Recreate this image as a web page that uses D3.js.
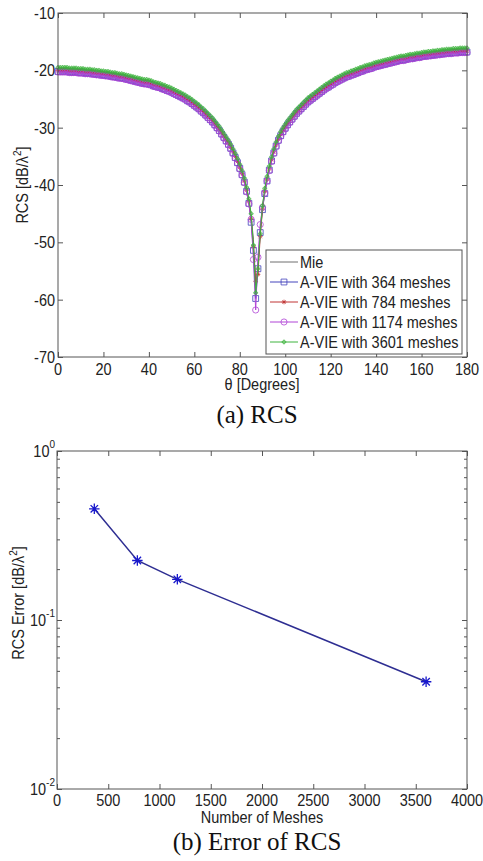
<!DOCTYPE html>
<html><head><meta charset="utf-8">
<script src="https://cdn.jsdelivr.net/npm/d3@7"></script>
<style>body{margin:0;background:#fff}svg{display:block}</style>
</head><body>
<svg id="c" width="483" height="861"></svg>
<script>
// ---------- data: (a) RCS vs theta ----------
const thetaDeg = d3.range(0, 181);
const rcsMie = [
-19.7,-19.7,-19.7,-19.7,-19.7,-19.8,-19.8,-19.8,-19.8,-19.9,
-19.9,-19.9,-20.0,-20.0,-20.0,-20.1,-20.1,-20.2,-20.2,-20.3,
-20.3,-20.4,-20.4,-20.5,-20.6,-20.6,-20.7,-20.8,-20.8,-20.9,
-21.0,-21.1,-21.2,-21.3,-21.4,-21.5,-21.6,-21.7,-21.8,-21.8,
-21.9,-22.0,-22.2,-22.3,-22.4,-22.5,-22.7,-22.8,-23.0,-23.1,
-23.3,-23.5,-23.7,-23.9,-24.1,-24.3,-24.5,-24.8,-25.0,-25.3,
-25.6,-25.9,-26.2,-26.6,-26.9,-27.3,-27.7,-28.1,-28.5,-29.0,
-29.5,-30.0,-30.6,-31.2,-31.8,-32.4,-33.1,-33.9,-34.7,-35.6,
-36.6,-37.7,-39.0,-40.6,-42.6,-45.3,-49.5,-57.5,-54.2,-47.6,
-43.6,-40.8,-38.7,-36.9,-35.3,-33.9,-32.7,-31.7,-30.9,-30.2,
-29.6,-29.0,-28.5,-28.0,-27.5,-27.0,-26.6,-26.2,-25.8,-25.4,
-25.0,-24.7,-24.4,-24.1,-23.8,-23.5,-23.2,-22.9,-22.6,-22.4,
-22.1,-21.9,-21.6,-21.4,-21.2,-21.0,-20.8,-20.6,-20.5,-20.3,
-20.2,-20.0,-19.9,-19.7,-19.6,-19.4,-19.3,-19.2,-19.1,-18.9,
-18.8,-18.7,-18.6,-18.5,-18.4,-18.3,-18.2,-18.1,-18.0,-17.9,
-17.8,-17.7,-17.7,-17.6,-17.5,-17.4,-17.4,-17.3,-17.2,-17.2,
-17.1,-17.0,-17.0,-16.9,-16.9,-16.8,-16.8,-16.7,-16.7,-16.6,
-16.6,-16.5,-16.5,-16.5,-16.4,-16.4,-16.4,-16.3,-16.3,-16.3,-16.3];
const rcs364 = [
-20.2,-20.2,-20.2,-20.2,-20.2,-20.3,-20.3,-20.3,-20.3,-20.4,
-20.4,-20.4,-20.5,-20.5,-20.5,-20.6,-20.6,-20.7,-20.7,-20.8,
-20.8,-20.9,-20.9,-21.0,-21.1,-21.1,-21.2,-21.3,-21.3,-21.4,
-21.5,-21.6,-21.7,-21.8,-21.9,-22.0,-22.1,-22.2,-22.3,-22.3,
-22.4,-22.5,-22.7,-22.8,-22.9,-23.0,-23.2,-23.3,-23.5,-23.6,
-23.8,-24.0,-24.2,-24.4,-24.6,-24.8,-25.0,-25.3,-25.5,-25.8,
-26.1,-26.4,-26.7,-27.1,-27.4,-27.8,-28.2,-28.6,-29.0,-29.5,
-30.0,-30.5,-31.1,-31.7,-32.3,-32.9,-33.6,-34.4,-35.2,-36.1,
-37.1,-38.2,-39.5,-41.1,-43.2,-46.5,-51.4,-59.8,-54.6,-48.3,
-44.3,-41.5,-39.3,-37.4,-35.8,-34.4,-33.2,-32.2,-31.4,-30.7,
-30.1,-29.5,-29.0,-28.5,-28.0,-27.5,-27.1,-26.7,-26.3,-25.9,
-25.5,-25.2,-24.9,-24.6,-24.3,-24.0,-23.7,-23.4,-23.1,-22.9,
-22.6,-22.4,-22.1,-21.9,-21.7,-21.5,-21.3,-21.1,-21.0,-20.8,
-20.7,-20.5,-20.4,-20.2,-20.1,-19.9,-19.8,-19.7,-19.6,-19.4,
-19.3,-19.2,-19.1,-19.0,-18.9,-18.8,-18.7,-18.6,-18.5,-18.4,
-18.3,-18.2,-18.2,-18.1,-18.0,-17.9,-17.9,-17.8,-17.7,-17.7,
-17.6,-17.5,-17.5,-17.4,-17.4,-17.3,-17.3,-17.2,-17.2,-17.1,
-17.1,-17.0,-17.0,-17.0,-16.9,-16.9,-16.9,-16.8,-16.8,-16.8,-16.8];
const rcs784 = [
-20.0,-20.0,-20.0,-20.0,-20.0,-20.1,-20.1,-20.1,-20.1,-20.2,
-20.2,-20.2,-20.3,-20.3,-20.3,-20.4,-20.4,-20.5,-20.5,-20.6,
-20.6,-20.7,-20.7,-20.8,-20.9,-20.9,-21.0,-21.1,-21.1,-21.2,
-21.3,-21.4,-21.5,-21.6,-21.7,-21.8,-21.9,-22.0,-22.1,-22.1,
-22.2,-22.3,-22.5,-22.6,-22.7,-22.8,-23.0,-23.1,-23.3,-23.4,
-23.6,-23.8,-24.0,-24.2,-24.4,-24.6,-24.8,-25.1,-25.3,-25.6,
-25.9,-26.2,-26.5,-26.9,-27.2,-27.6,-28.0,-28.4,-28.8,-29.3,
-29.8,-30.3,-30.9,-31.5,-32.1,-32.7,-33.4,-34.2,-35.0,-35.9,
-36.9,-38.0,-39.3,-40.9,-42.9,-45.8,-50.8,-56.8,-55.6,-49.0,
-44.2,-41.1,-39.0,-37.2,-35.6,-34.2,-33.0,-32.0,-31.2,-30.5,
-29.9,-29.3,-28.8,-28.3,-27.8,-27.3,-26.9,-26.5,-26.1,-25.7,
-25.3,-25.0,-24.7,-24.4,-24.1,-23.8,-23.5,-23.2,-22.9,-22.7,
-22.4,-22.2,-21.9,-21.7,-21.5,-21.3,-21.1,-20.9,-20.8,-20.6,
-20.5,-20.3,-20.2,-20.0,-19.9,-19.7,-19.6,-19.5,-19.4,-19.2,
-19.1,-19.0,-18.9,-18.8,-18.7,-18.6,-18.5,-18.4,-18.3,-18.2,
-18.1,-18.0,-18.0,-17.9,-17.8,-17.7,-17.7,-17.6,-17.5,-17.5,
-17.4,-17.3,-17.3,-17.2,-17.2,-17.1,-17.1,-17.0,-17.0,-16.9,
-16.9,-16.8,-16.8,-16.8,-16.7,-16.7,-16.7,-16.6,-16.6,-16.6,-16.6];
const rcs1174 = [
-20.3,-20.3,-20.3,-20.3,-20.3,-20.4,-20.4,-20.4,-20.4,-20.5,
-20.5,-20.5,-20.6,-20.6,-20.6,-20.7,-20.7,-20.8,-20.8,-20.9,
-20.9,-21.0,-21.0,-21.1,-21.2,-21.2,-21.3,-21.4,-21.4,-21.5,
-21.6,-21.7,-21.8,-21.9,-22.0,-22.1,-22.2,-22.3,-22.4,-22.4,
-22.5,-22.6,-22.8,-22.9,-23.0,-23.1,-23.3,-23.4,-23.6,-23.7,
-23.9,-24.1,-24.3,-24.5,-24.7,-24.9,-25.1,-25.4,-25.6,-25.9,
-26.2,-26.5,-26.8,-27.2,-27.5,-27.9,-28.3,-28.7,-29.1,-29.6,
-30.1,-30.6,-31.2,-31.8,-32.4,-33.0,-33.7,-34.5,-35.3,-36.2,
-37.2,-38.3,-39.6,-41.2,-43.3,-46.0,-53.0,-61.8,-52.6,-46.9,
-43.9,-41.4,-39.3,-37.5,-35.9,-34.5,-33.3,-32.3,-31.5,-30.8,
-30.2,-29.6,-29.1,-28.6,-28.1,-27.6,-27.2,-26.8,-26.4,-26.0,
-25.6,-25.3,-25.0,-24.7,-24.4,-24.1,-23.8,-23.5,-23.2,-23.0,
-22.7,-22.5,-22.2,-22.0,-21.8,-21.6,-21.4,-21.2,-21.1,-20.9,
-20.8,-20.6,-20.5,-20.3,-20.2,-20.0,-19.9,-19.8,-19.7,-19.5,
-19.4,-19.3,-19.2,-19.1,-19.0,-18.9,-18.8,-18.7,-18.6,-18.5,
-18.4,-18.3,-18.3,-18.2,-18.1,-18.0,-18.0,-17.9,-17.8,-17.8,
-17.7,-17.6,-17.6,-17.5,-17.5,-17.4,-17.4,-17.3,-17.3,-17.2,
-17.2,-17.1,-17.1,-17.1,-17.0,-17.0,-17.0,-16.9,-16.9,-16.9,-16.9];
const rcs3601 = [
-19.5,-19.5,-19.5,-19.5,-19.5,-19.6,-19.6,-19.6,-19.6,-19.7,
-19.7,-19.7,-19.8,-19.8,-19.8,-19.9,-19.9,-20.0,-20.0,-20.1,
-20.1,-20.2,-20.2,-20.3,-20.4,-20.4,-20.5,-20.6,-20.6,-20.7,
-20.8,-20.9,-21.0,-21.1,-21.2,-21.3,-21.4,-21.5,-21.6,-21.6,
-21.7,-21.8,-22.0,-22.1,-22.2,-22.3,-22.5,-22.6,-22.8,-22.9,
-23.1,-23.3,-23.5,-23.7,-23.9,-24.1,-24.3,-24.6,-24.8,-25.1,
-25.4,-25.7,-26.0,-26.4,-26.7,-27.1,-27.5,-27.9,-28.3,-28.8,
-29.3,-29.8,-30.4,-31.0,-31.6,-32.2,-32.9,-33.7,-34.5,-35.4,
-36.4,-37.5,-38.8,-40.4,-42.4,-45.0,-50.5,-58.8,-54.6,-48.5,
-43.6,-40.6,-38.5,-36.7,-35.1,-33.7,-32.5,-31.5,-30.7,-30.0,
-29.4,-28.8,-28.3,-27.8,-27.3,-26.8,-26.4,-26.0,-25.6,-25.2,
-24.8,-24.5,-24.2,-23.9,-23.6,-23.3,-23.0,-22.7,-22.4,-22.2,
-21.9,-21.7,-21.4,-21.2,-21.0,-20.8,-20.6,-20.4,-20.3,-20.1,
-20.0,-19.8,-19.7,-19.5,-19.4,-19.2,-19.1,-19.0,-18.9,-18.7,
-18.6,-18.5,-18.4,-18.3,-18.2,-18.1,-18.0,-17.9,-17.8,-17.7,
-17.6,-17.5,-17.5,-17.4,-17.3,-17.2,-17.2,-17.1,-17.0,-17.0,
-16.9,-16.8,-16.8,-16.7,-16.7,-16.6,-16.6,-16.5,-16.5,-16.4,
-16.4,-16.3,-16.3,-16.3,-16.2,-16.2,-16.2,-16.1,-16.1,-16.1,-16.1];
const seriesNames = ["Mie", "A-VIE with 364 meshes", "A-VIE with 784 meshes", "A-VIE with 1174 meshes", "A-VIE with 3601 meshes"];
const thetaTicks = [0, 20, 40, 60, 80, 100, 120, 140, 160, 180];
const rcsTicks = [-70, -60, -50, -40, -30, -20, -10];

// ---------- data: (b) error vs meshes ----------
const meshCounts = [364, 784, 1174, 3601];
const rcsError = [0.455, 0.225, 0.174, 0.0431];
const meshTicks = [0, 500, 1000, 1500, 2000, 2500, 3000, 3500, 4000];
const errorTicks = [0.01, 0.1, 1];
const errorTickExp = ["-2", "-1", "0"];

// ---------- drawing ----------
const svg = d3.select("#c");
const SANS = "'Liberation Sans', Arial, sans-serif";
const SERIF = "'Liberation Serif', 'Times New Roman', serif";
const AX = "#555";

function label(g, x, y, str, o = {}) {
  const t = g.append("text")
    .attr("transform", `translate(${x},${y}) rotate(${o.rot || 0}) scale(1,${o.sy || 1.18})`)
    .attr("text-anchor", o.anchor || "middle")
    .attr("font-family", o.family || SANS)
    .attr("font-size", o.size || 14.5)
    .attr("fill", o.fill || "#222");
  if (str !== null) t.text(str);
  return t;
}

const star8 = {
  draw(ctx, size) {
    const r = Math.sqrt(size) / 2, d = r * 0.707;
    ctx.moveTo(-r, 0); ctx.lineTo(r, 0);
    ctx.moveTo(0, -r); ctx.lineTo(0, r);
    ctx.moveTo(-d, -d); ctx.lineTo(d, d);
    ctx.moveTo(-d, d); ctx.lineTo(d, -d);
  }
};

// ===== (a) =====
const A = { l: 58, r: 467, t: 13, b: 357 };
const xA = d3.scaleLinear().domain([0, 180]).range([A.l, A.r]);
const yA = d3.scaleLinear().domain([-70, -10]).range([A.b, A.t]);
const gA = svg.append("g");

function ticksOnly(axis) {
  return g => { g.call(axis); g.select(".domain").remove(); g.selectAll("text").remove();
    g.selectAll("line").attr("stroke", AX); };
}
gA.append("g").attr("transform", `translate(0,${A.b})`).call(ticksOnly(d3.axisBottom(xA).tickValues(thetaTicks).tickSize(-5)));
gA.append("g").attr("transform", `translate(0,${A.t})`).call(ticksOnly(d3.axisTop(xA).tickValues(thetaTicks).tickSize(-5)));
gA.append("g").attr("transform", `translate(${A.l},0)`).call(ticksOnly(d3.axisLeft(yA).tickValues(rcsTicks).tickSize(-5)));
gA.append("g").attr("transform", `translate(${A.r},0)`).call(ticksOnly(d3.axisRight(yA).tickValues(rcsTicks).tickSize(-5)));

const series = [
  { name: seriesNames[0], vals: rcsMie, color: "#6e6e6e", marker: null },
  { name: seriesNames[1], vals: rcs364, color: "#4444bc", marker: d3.symbolSquare, msize: 34 },
  { name: seriesNames[2], vals: rcs784, color: "#c03434", marker: star8, msize: 22 },
  { name: seriesNames[3], vals: rcs1174, color: "#b044d6", marker: d3.symbolCircle, msize: 30 },
  { name: seriesNames[4], vals: rcs3601, color: "#3fb43f", marker: d3.symbolCross, msize: 8 }
];
const lineA = d3.line().x((d, i) => xA(thetaDeg[i])).y(d => yA(d));
const plotA = gA.append("g");
series.forEach(s => {
  plotA.append("path").attr("d", lineA(s.vals)).attr("fill", "none")
    .attr("stroke", s.color).attr("stroke-width", 1);
  if (s.marker) {
    const sym = d3.symbol().type(s.marker).size(s.msize);
    plotA.append("g").selectAll("path").data(s.vals).join("path")
      .attr("transform", (d, i) => `translate(${xA(thetaDeg[i])},${yA(d)})`)
      .attr("d", sym).attr("fill", "none").attr("stroke", s.color).attr("stroke-width", 0.8);
  }
});

gA.append("rect").attr("x", A.l).attr("y", A.t).attr("width", A.r - A.l).attr("height", A.b - A.t)
  .attr("fill", "none").attr("stroke", AX).attr("stroke-width", 1);

thetaTicks.forEach(v => label(gA, xA(v), 375, String(v)));
rcsTicks.forEach(v => label(gA, 55, yA(v) + 6, String(v), { anchor: "end" }));
label(gA, 262, 390, "θ [Degrees]");
const ylA = label(gA, 28, 185, null, { rot: -90 });
ylA.append("tspan").text("RCS [dB/λ");
ylA.append("tspan").attr("dy", -6).attr("font-size", 10).text("2");
ylA.append("tspan").attr("dy", 6).text("]");

// legend
const L = { x: 266, y: 250, w: 196, h: 104 };
const gL = gA.append("g");
gL.append("rect").attr("x", L.x).attr("y", L.y).attr("width", L.w).attr("height", L.h)
  .attr("fill", "#fff").attr("stroke", AX).attr("stroke-width", 1);
series.forEach((s, i) => {
  const cy = 262 + i * 20;
  gL.append("line").attr("x1", 270).attr("x2", 298).attr("y1", cy).attr("y2", cy)
    .attr("stroke", s.color).attr("stroke-width", 1);
  if (s.marker) {
    gL.append("path").attr("transform", `translate(284,${cy})`)
      .attr("d", d3.symbol().type(s.marker).size(s.msize)).attr("fill", "none")
      .attr("stroke", s.color).attr("stroke-width", 0.8);
  }
  label(gL, 300, cy + 6, s.name, { anchor: "start", sy: 1.12 });
});

label(svg, 257, 423, "(a) RCS", { family: SERIF, size: 25, sy: 1, fill: "#111" });

// ===== (b) =====
const B = { l: 57, r: 467, t: 451, b: 789 };
const xB = d3.scaleLinear().domain([0, 4000]).range([B.l, B.r]);
const yB = d3.scaleLog().domain([0.01, 1]).range([B.b, B.t]);
const gB = svg.append("g");
const minorB = yB.ticks().filter(v => !errorTicks.includes(v));
gB.append("g").attr("transform", `translate(0,${B.b})`).call(ticksOnly(d3.axisBottom(xB).tickValues(meshTicks).tickSize(-5)));
gB.append("g").attr("transform", `translate(0,${B.t})`).call(ticksOnly(d3.axisTop(xB).tickValues(meshTicks).tickSize(-5)));
gB.append("g").attr("transform", `translate(${B.l},0)`).call(ticksOnly(d3.axisLeft(yB).tickValues(errorTicks).tickSize(-5)));
gB.append("g").attr("transform", `translate(${B.r},0)`).call(ticksOnly(d3.axisRight(yB).tickValues(errorTicks).tickSize(-5)));
gB.append("g").attr("transform", `translate(${B.l},0)`).call(ticksOnly(d3.axisLeft(yB).tickValues(minorB).tickSize(-3)));
gB.append("g").attr("transform", `translate(${B.r},0)`).call(ticksOnly(d3.axisRight(yB).tickValues(minorB).tickSize(-3)));

const lineB = d3.line().x((d, i) => xB(meshCounts[i])).y(d => yB(d));
gB.append("path").attr("d", lineB(rcsError)).attr("fill", "none")
  .attr("stroke", "#2e2e92").attr("stroke-width", 1.5);
gB.append("g").selectAll("path").data(rcsError).join("path")
  .attr("transform", (d, i) => `translate(${xB(meshCounts[i])},${yB(d)})`)
  .attr("d", d3.symbol().type(star8).size(110)).attr("fill", "none")
  .attr("stroke", "#1818cc").attr("stroke-width", 1.3);

gB.append("rect").attr("x", B.l).attr("y", B.t).attr("width", B.r - B.l).attr("height", B.b - B.t)
  .attr("fill", "none").attr("stroke", AX).attr("stroke-width", 1);

meshTicks.forEach(v => label(gB, xB(v), 806, String(v)));
errorTicks.forEach((v, i) => {
  const t = label(gB, 55, yB(v) + 6, null, { anchor: "end" });
  t.append("tspan").text("10");
  t.append("tspan").attr("dy", -8).attr("font-size", 10).text(errorTickExp[i]);
});
label(gB, 262, 823, "Number of Meshes");
const ylB = label(gB, 24, 603, null, { rot: -90 });
ylB.append("tspan").text("RCS Error [dB/λ");
ylB.append("tspan").attr("dy", -6).attr("font-size", 10).text("2");
ylB.append("tspan").attr("dy", 6).text("]");

label(svg, 257, 850, "(b) Error of RCS", { family: SERIF, size: 25, sy: 1, fill: "#111" });
</script>
</body></html>
